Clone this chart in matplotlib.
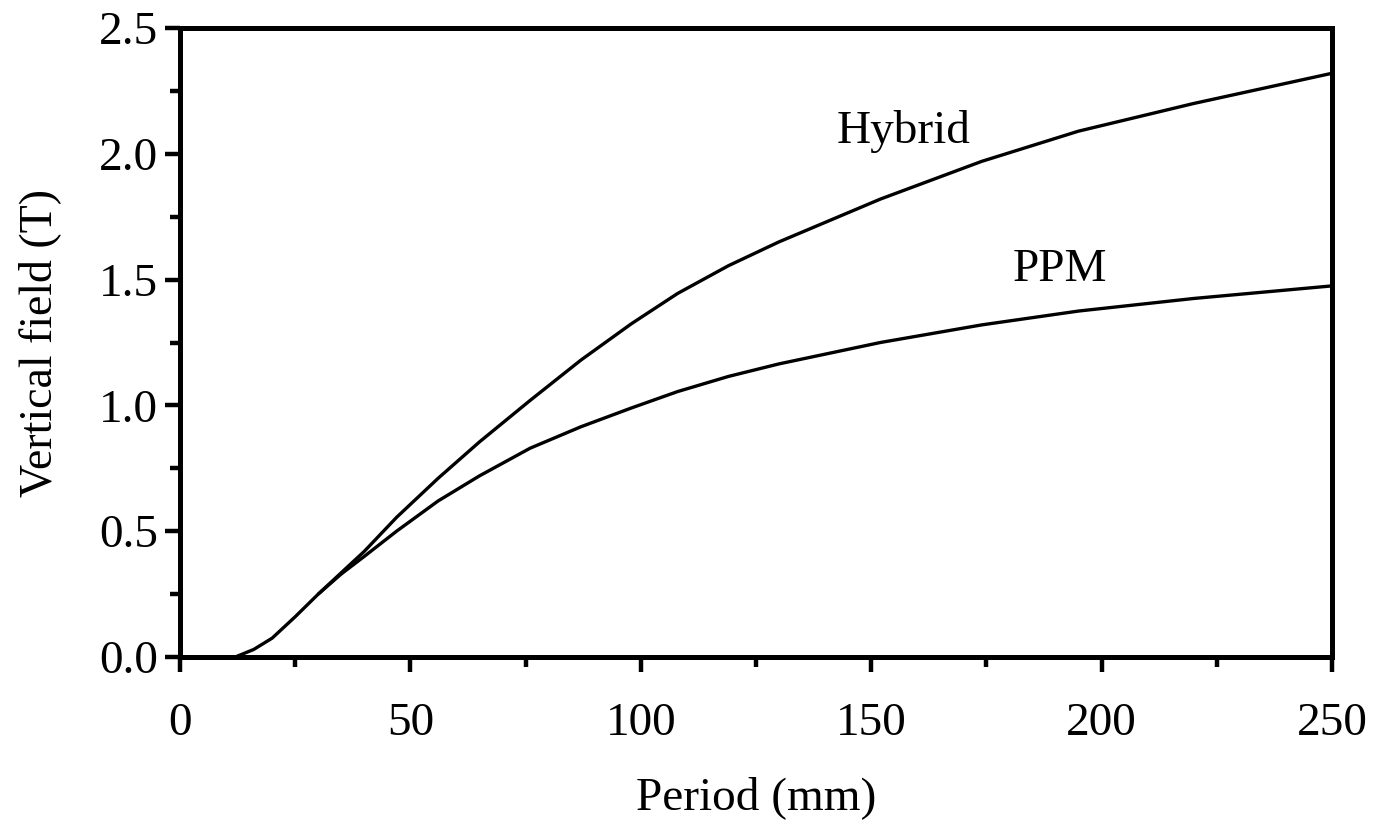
import numpy as np
import matplotlib
matplotlib.use("Agg")
import matplotlib.pyplot as plt
from matplotlib.ticker import MultipleLocator

# valores
period_ppm = [12, 16, 20, 25, 30, 35, 40, 47, 56, 65, 76, 87, 98, 108, 119, 130, 152, 174, 195, 220, 250]
field_ppm = [0.0, 0.03, 0.075, 0.16, 0.25, 0.33, 0.40, 0.50, 0.62, 0.72, 0.83, 0.915, 0.99, 1.055, 1.115, 1.165, 1.25, 1.32, 1.375, 1.425, 1.475]

period_hyb = [30, 40, 47, 56, 65, 76, 87, 98, 108, 119, 130, 152, 174, 195, 220, 250]
field_hyb = [0.25, 0.42, 0.555, 0.71, 0.855, 1.02, 1.18, 1.325, 1.445, 1.555, 1.65, 1.82, 1.97, 2.09, 2.20, 2.32]

x_ticks = [0, 50, 100, 150, 200, 250]
y_ticks = [0.0, 0.5, 1.0, 1.5, 2.0, 2.5]

plt.rcParams['font.family'] = ['Liberation Serif', 'DejaVu Serif']

fig = plt.figure(figsize=(13.73, 8.26), dpi=100)
ax = fig.add_axes([0.1311, 0.2046, 0.839, 0.7615])

ax.plot(period_ppm, field_ppm, color='black', lw=2.4, solid_capstyle='butt')
ax.plot(period_hyb, field_hyb, color='black', lw=2.4, solid_capstyle='butt')

ax.set_xlim(0, 250)
ax.set_ylim(0, 2.5)
ax.set_xticks(x_ticks)
ax.set_yticks(y_ticks)
ax.set_yticklabels([f"{v:.1f}" for v in y_ticks])
ax.xaxis.set_minor_locator(MultipleLocator(25))
ax.yaxis.set_minor_locator(MultipleLocator(0.25))

for s in ax.spines.values():
    s.set_linewidth(3.6)

ax.tick_params(which='major', direction='out', length=11, width=3.2, labelsize=34, top=False, right=False)
ax.tick_params(which='minor', direction='out', length=7.5, width=3.2, top=False, right=False)
ax.tick_params(axis='x', which='major', pad=22)
ax.tick_params(axis='y', which='major', pad=5)

ax.text(157, 2.09, "Hybrid", fontsize=34, ha='center', va='center')
ax.text(191, 1.54, "PPM", fontsize=34, ha='center', va='center')

ax.set_xlabel("Period (mm)", fontsize=34, labelpad=22)
ax.set_ylabel("Vertical field (T)", fontsize=33, labelpad=27)

fig.savefig("out.png", dpi=100)
